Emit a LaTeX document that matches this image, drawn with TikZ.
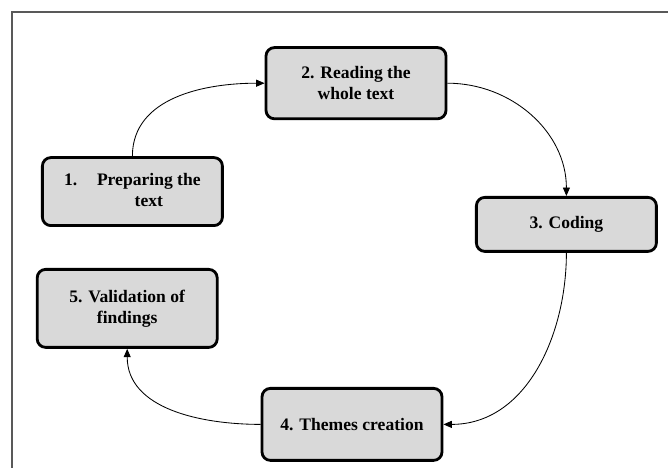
\documentclass[tikz,border=0pt]{standalone}
\usepackage{fontspec}
\setmainfont{Liberation Serif}
\usetikzlibrary{positioning, arrows.meta}
\definecolor{boxfill}{RGB}{217,217,217}
\definecolor{framegray}{RGB}{89,89,89}

\begin{document}
\begin{tikzpicture}[
    stepbox/.style={draw, line width=2pt, rounded corners=6pt, fill=boxfill, minimum width=4.5cm, align=center, font=\fontsize{12.5}{15}\selectfont\bfseries},
    flow/.style={-{Triangle[length=6pt, width=5pt]}, line width=0.6pt}
]
    \useasboundingbox (0,0) rectangle (16.7,11.7);

    % Cadre
    \draw[framegray, line width=1pt] (0.3,0) |- (16.7,11.4);

    % Etapes
    \node[stepbox, minimum height=1.7cm] (prep) at (3.31,6.91) {\begin{tabular}{@{}l@{\hspace{14pt}}c@{}}1. & Preparing the\\ & text\end{tabular}};
    \node[stepbox, minimum height=1.78cm] (read) at (8.9,9.62) {2. Reading the\\whole text};
    \node[stepbox, minimum height=1.35cm] (coding) at (14.16,6.09) {3. Coding};
    \node[stepbox, minimum height=1.8cm] (themes) at (8.8,1.09) {4. Themes creation};
    \node[stepbox, minimum height=1.95cm] (valid) at (3.18,3.99) {5. Validation of\\findings};

    % Fleches du cycle
    \draw[flow] (prep.north) to[out=90, in=180] (read.west);
    \draw[flow] (read.east) to[out=0, in=90] (coding.north);
    \draw[flow] (coding.south) to[out=-90, in=0] (themes.east);
    \draw[flow] (themes.west) to[out=180, in=-90] (valid.south);
\end{tikzpicture}
\end{document}
